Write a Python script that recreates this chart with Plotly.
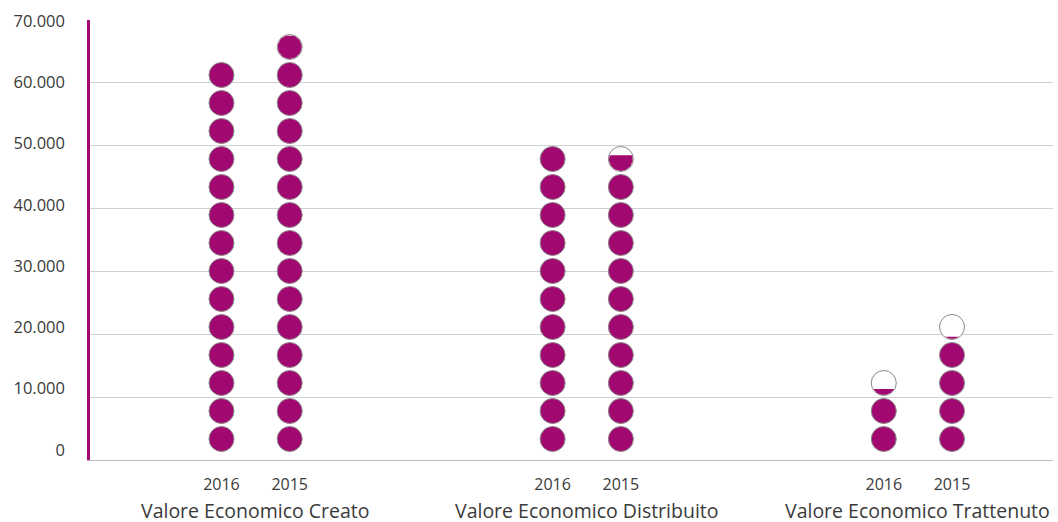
import math
import plotly.graph_objects as go

# ---- data ----
categories = ["Valore Economico Creato", "Valore Economico Distribuito", "Valore Economico Trattenuto"]
years = ["2016", "2015"]
values_2016 = [63300, 50100, 11300]
values_2015 = [67500, 48500, 19600]
y_tickvals = [0, 10000, 20000, 30000, 40000, 50000, 60000, 70000]
y_ticktext = ["0", "10.000", "20.000", "30.000", "40.000", "50.000", "60.000", "70.000"]

# ---- layout / style constants ----
W, H = 1058, 522
ML, MR, MT, MB = 90, 5, 20, 62
PW, PH = W - ML - MR, H - MT - MB
Y_MAX = 70000
X_RANGE = [-0.5, 2.408]
BAR_OFFSET = 0.103
PURPLE = "#a10870"
BORDER = "#8a8a8a"
TEXT = "#3a3a3a"
FONT = "Open Sans"
R_PX = 12.5          # circle radius (px)
STEP_PX = 28         # distance between circle centres (px)
FIRST_PX = 21        # first centre above the axis (px)
# label axis (the reference's labels sit on a slightly compressed scale)
LBL_BOTTOM_PX, LBL_TOP_PX = 10, 1

y_per_px = Y_MAX / PH
x_per_px = (X_RANGE[1] - X_RANGE[0]) / PW
lbl_per_px = Y_MAX / (PH - LBL_BOTTOM_PX - LBL_TOP_PX)
Y2_RANGE = [-LBL_BOTTOM_PX * lbl_per_px, Y_MAX + LBL_TOP_PX * lbl_per_px]

fig = go.Figure()

full_x, full_y, empty_x, empty_y = [], [], [], []
segments = []
tick_x, tick_t = [], []
series = [(years[0], values_2016, -BAR_OFFSET), (years[1], values_2015, BAR_OFFSET)]
for yr, vals, off in series:
    for i, v in enumerate(vals):
        x = i + off
        tick_x.append(x)
        tick_t.append(yr)
        v_px = v / y_per_px
        k = 0
        while True:
            c_px = FIRST_PX + STEP_PX * k
            if v_px <= c_px - R_PX:
                break
            if v_px >= c_px + R_PX:
                full_x.append(x)
                full_y.append(c_px * y_per_px)
            else:
                empty_x.append(x)
                empty_y.append(c_px * y_per_px)
                yc = v_px - c_px
                r_in = R_PX - 0.6
                yc = max(min(yc, r_in), -r_in)
                T = math.acos(-yc / r_in)
                n = 40
                sx, sy = [], []
                for j in range(n + 1):
                    t = -T + 2 * T * j / n
                    sx.append(x + r_in * math.sin(t) * x_per_px)
                    sy.append((c_px - r_in * math.cos(t)) * y_per_px)
                segments.append((sx, sy))
            k += 1

fig.add_trace(go.Scatter(x=empty_x, y=empty_y, mode="markers",
                         marker=dict(size=2 * R_PX, color="white", line=dict(color=BORDER, width=1)),
                         hoverinfo="skip", showlegend=False))
for sx, sy in segments:
    fig.add_trace(go.Scatter(x=sx, y=sy, mode="lines", fill="toself", fillcolor=PURPLE,
                             line=dict(width=0, color=PURPLE), hoverinfo="skip", showlegend=False))
fig.add_trace(go.Scatter(x=full_x, y=full_y, mode="markers",
                         marker=dict(size=2 * R_PX, color=PURPLE, line=dict(color=BORDER, width=1)),
                         hoverinfo="skip", showlegend=False))
# invisible trace to anchor the label axis
fig.add_trace(go.Scatter(x=[X_RANGE[0]], y=[0], yaxis="y2", mode="markers",
                         marker=dict(size=1, opacity=0), hoverinfo="skip", showlegend=False))

for i, cat in enumerate(categories):
    fig.add_annotation(x=i, y=0, xref="x", yref="paper", text=cat, showarrow=False,
                       yanchor="top", yshift=-36, borderpad=0,
                       font=dict(family=FONT, size=19.5, color=TEXT))

fig.update_layout(
    width=W, height=H, autosize=False,
    margin=dict(l=ML, r=MR, t=MT, b=MB),
    paper_bgcolor="white", plot_bgcolor="white",
    font=dict(family=FONT, color=TEXT),
    showlegend=False,
    yaxis2=dict(overlaying="y", side="left", range=Y2_RANGE, tickvals=y_tickvals,
                ticktext=y_ticktext, showgrid=False, zeroline=False, showline=False,
                ticks="", ticklabelstandoff=24, tickfont=dict(family=FONT, size=16.5, color=TEXT)),
)
fig.update_xaxes(range=X_RANGE, tickvals=tick_x, ticktext=tick_t, showgrid=False, zeroline=False,
                 showline=True, linecolor="#bdbdbd", linewidth=1, ticks="",
                 ticklabelstandoff=10, tickfont=dict(family=FONT, size=16, color=TEXT))
fig.layout.yaxis.update(range=[0, Y_MAX], tickvals=y_tickvals, showticklabels=False, showgrid=True,
                        gridcolor="#cfcfd4", gridwidth=1, zeroline=False,
                        showline=True, linecolor=PURPLE, linewidth=3, ticks="")

fig.write_html("out.html")
